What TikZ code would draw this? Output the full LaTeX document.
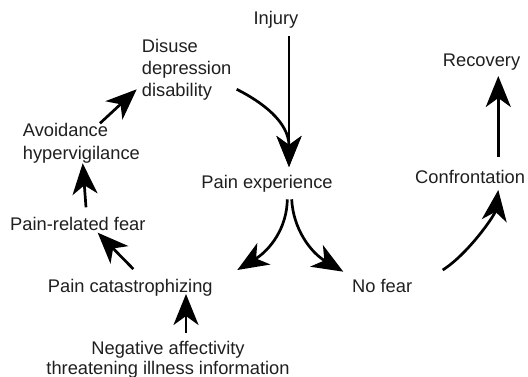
\documentclass[tikz,border=0pt]{standalone}
\usepackage{fontspec}
\setmainfont{Liberation Sans}
\usetikzlibrary{arrows.meta}
\begin{document}
\begin{tikzpicture}[x=1pt,y=-1pt,
  lbl/.style={inner sep=0pt, font=\fontsize{18.3}{22.3}\selectfont, text=black!88},
  arr/.style={line width=2.7pt, -{Stealth[length=31pt,width=25pt,inset=9pt]}},
]
\useasboundingbox (0,0) rectangle (528,377);
% nodes
\node[lbl, anchor=base] (inj) at (276,25) {Injury};
\node[lbl, anchor=base] (pe) at (267,189) {Pain experience};
\node[lbl, anchor=base west, align=left] (dis) at (141.7,96.7) {Disuse\\depression\\disability};
\node[lbl, anchor=base west, align=left] (avo) at (22.7,159.3) {Avoidance\\hypervigilance};
\node[lbl, anchor=base west] (prf) at (10,230) {Pain-related fear};
\node[lbl, anchor=base west] (pc) at (47.7,292.7) {Pain catastrophizing};
\node[lbl, anchor=base, align=center, font=\fontsize{18.3}{20}\selectfont] (neg) at (168,374) {Negative affectivity\\threatening illness information};
\node[lbl, anchor=base] (nf) at (382.2,292.7) {No fear};
\node[lbl, anchor=base west] (conf) at (415,184) {Confrontation};
\node[lbl, anchor=base west] (rec) at (442.7,66.7) {Recovery};
% connectors
\draw[arr] ([shift={(13,11)}]inj.base) -- ([shift={(22,-22)}]pe.base);
\draw[arr] ([shift={(95,-7.4)}]dis.base west) .. controls +(25.3,12.7) and +(0,-45) .. ([shift={(22,-22)}]pe.base);
\draw[arr] ([shift={(20.3,10.3)}]pe.base) .. controls +(-0.3,28.7) and +(32.7,-20) .. ([shift={(189.6,-22.7)}]pc.base west);
\draw[arr] ([shift={(24.7,10.3)}]pe.base) .. controls +(1.3,28.7) and +(-33.3,-19.7) .. ([shift={(-38.9,-21)}]nf.base);
\draw[arr] ([shift={(60.5,-22.7)}]nf.base) .. controls +(25.3,-16) and +(-3.3,25) .. ([shift={(83.3,6)}]conf.base west);
\draw[arr] ([shift={(83.3,-27.3)}]conf.base west) -- ([shift={(55.6,9.3)}]rec.base west);
\draw[arr] ([shift={(85.6,-23.7)}]pc.base west) -- ([shift={(87.7,2.7)}]prf.base west);
\draw[arr] ([shift={(76,-22.7)}]prf.base west) -- ([shift={(60,4)}]avo.base west);
\draw[arr] ([shift={(77.3,-36)}]avo.base west) -- ([shift={(-5,-7.4)}]dis.base west);
\draw[arr] ([shift={(18,-41)}]neg.base) -- ([shift={(138.3,1.3)}]pc.base west);
\end{tikzpicture}
\end{document}
